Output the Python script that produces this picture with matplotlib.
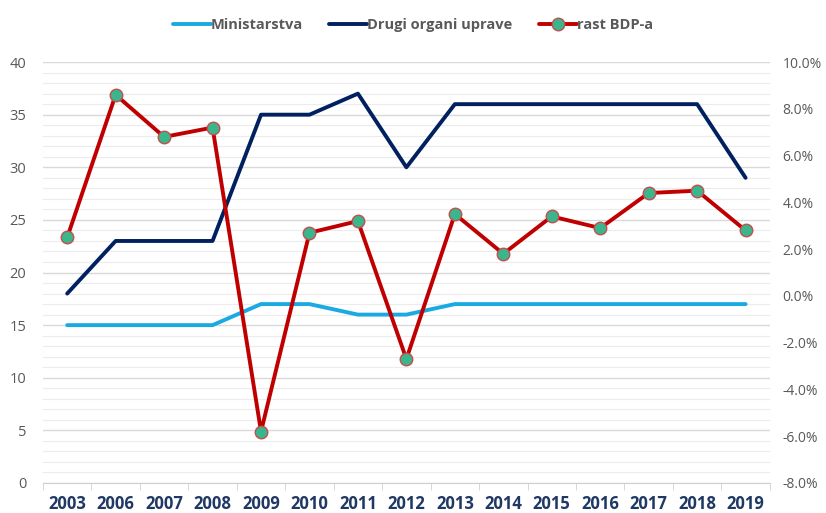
import matplotlib
matplotlib.use("Agg")
import matplotlib.pyplot as plt
from matplotlib.ticker import FixedLocator, MultipleLocator, FuncFormatter

years = ["2003", "2006", "2007", "2008", "2009", "2010", "2011", "2012",
         "2013", "2014", "2015", "2016", "2017", "2018", "2019"]
ministarstva = [15, 15, 15, 15, 17, 17, 16, 16, 17, 17, 17, 17, 17, 17, 17]
drugi_organi = [18, 23, 23, 23, 35, 35, 37, 30, 36, 36, 36, 36, 36, 36, 29]
rast_bdp = [2.5, 8.6, 6.8, 7.2, -5.8, 2.7, 3.2, -2.7, 3.5, 1.8, 3.4, 2.9, 4.4, 4.5, 2.8]

plt.rcParams['font.family'] = ['Open Sans', 'DejaVu Sans']

fig = plt.figure(figsize=(8.26, 5.13), dpi=100)
ax = fig.add_axes([0.052, 0.0585, 0.88, 0.8205])
x = list(range(len(years)))

# grid
ax.set_ylim(0, 40)
ax.set_xlim(-0.5, len(years) - 0.5)
ax.yaxis.set_major_locator(MultipleLocator(5))
ax.yaxis.set_minor_locator(MultipleLocator(1))
ax.grid(which='major', axis='y', color='#d9d9d9', lw=1.0, zorder=0)
ax.grid(which='minor', axis='y', color='#ececec', lw=0.8, zorder=0)
ax.set_axisbelow(True)

l1, = ax.plot(x, ministarstva, color='#1BA9E1', lw=2.8, solid_capstyle='round', zorder=3, label='Ministarstva')
l2, = ax.plot(x, drugi_organi, color='#002060', lw=2.8, solid_capstyle='round', zorder=3, label='Drugi organi uprave')

ax2 = ax.twinx()
ax2.set_ylim(-8, 10)
ax2.yaxis.set_major_locator(MultipleLocator(2))
ax2.yaxis.set_major_formatter(FuncFormatter(lambda v, p: f"{v:.1f}%"))
l3, = ax2.plot(x, rast_bdp, color='#C00000', lw=2.8, marker='o', ms=9,
               markerfacecolor='#3BB58C', markeredgecolor='#C0504D', markeredgewidth=1.0,
               solid_capstyle='round', zorder=4, label='rast BDP-a')

for a in (ax, ax2):
    for s in ('top', 'left', 'right'):
        a.spines[s].set_visible(False)
ax2.spines['bottom'].set_visible(False)
ax.spines['bottom'].set_color('#d0d0d0')

ax.set_xticks(x)
ax.set_xticklabels(years, fontsize=12, fontweight='bold', color='#1F3864')
ax.xaxis.set_minor_locator(FixedLocator([i - 0.5 for i in range(len(years) + 1)]))
ax.tick_params(axis='x', which='major', length=0, pad=9)
ax.tick_params(axis='x', which='minor', length=5, color='#d0d0d0')
ax.tick_params(axis='y', which='both', length=0, labelsize=10.5, labelcolor='#595959', pad=12)
ax2.tick_params(axis='y', length=0, labelsize=10, labelcolor='#595959', pad=9)

fig.legend(handles=[l1, l2, l3], loc='upper center', bbox_to_anchor=(0.5, 0.99), ncol=3,
           frameon=False, prop={'size': 10.5, 'weight': 'bold'}, labelcolor='#595959',
           handlelength=2.6, handletextpad=0.0, columnspacing=1.8)

fig.savefig('out.png', dpi=100)
